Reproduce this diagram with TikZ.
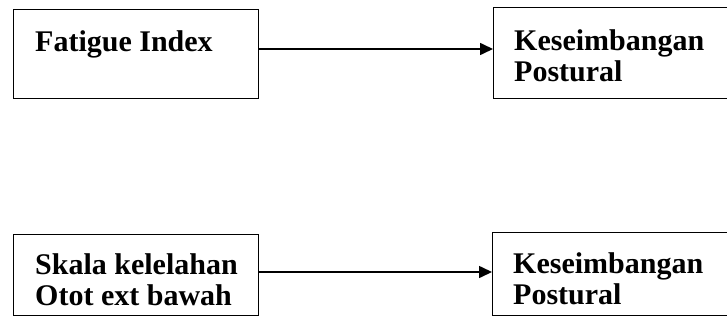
\documentclass[tikz,border=0pt]{standalone}
\usepackage{fontspec}
\setmainfont{Liberation Serif}
\usetikzlibrary{arrows.meta}
\begin{document}
\begin{tikzpicture}[x=1pt,y=1pt,
  box/.style={draw, line width=1.3pt, inner sep=0pt, anchor=south west},
  txt/.style={font=\fontsize{30}{31}\selectfont\bfseries, align=left, anchor=base west, inner sep=0pt},
  arr/.style={line width=1.6pt, -{Triangle[length=13pt,width=12pt]}}]
\useasboundingbox (0,0) rectangle (727,325);
% top row
\node[box, minimum width=245.5pt, minimum height=89pt] (fibox) at (12.5,226) {};
\node[box, minimum width=250pt, minimum height=91pt] (ks1box) at (493,226) {};
\node[txt] (fi) at (35,274) {Fatigue Index};
\node[txt] (ks1) at (514,244) {Keseimbangan\\Postural};
\coordinate (ya) at (0,276);
\draw[arr] (fibox.east |- ya) -- (ks1box.west |- ya);
% bottom row
\node[box, minimum width=245.5pt, minimum height=81pt] (skbox) at (12.5,9) {};
\node[box, minimum width=250pt, minimum height=83pt] (ks2box) at (492,9) {};
\node[txt] (sk) at (35,20) {Skala kelelahan\\Otot ext bawah};
\node[txt] (ks2) at (513,21) {Keseimbangan\\Postural};
\coordinate (yb) at (0,53);
\draw[arr] (skbox.east |- yb) -- (ks2box.west |- yb);
\end{tikzpicture}
\end{document}
